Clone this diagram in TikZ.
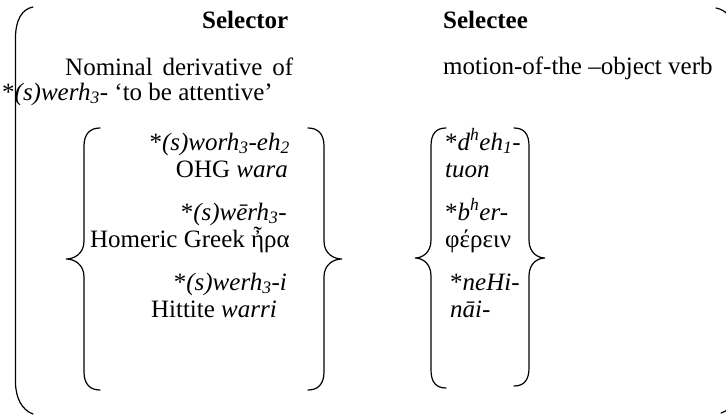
\documentclass[tikz,border=0pt]{standalone}
\usepackage{fontspec}
\setmainfont{Liberation Serif}
\tikzset{
  txt/.style={inner sep=0pt, anchor=base west, font=\fontsize{25}{28}\selectfont},
  txtr/.style={txt, anchor=base east},
  hd/.style={txt, font=\fontsize{25}{28}\selectfont\bfseries},
  brace/.style={line width=1.2pt, line cap=round}
}
\begin{document}
\begin{tikzpicture}[x=1pt,y=-1pt]
\useasboundingbox (0,0) rectangle (726,415);
\clip (0,0) rectangle (726,415);
% headings
\node[hd] (selector) at (202,28) {Selector};
\node[hd] (selectee) at (443,28) {Selectee};
\node[txt] (nom) at (65,75) {\makebox[228pt][s]{Nominal derivative of}};
\node[txt] (root) at (2,100) {*\textit{(s)werh\textsubscript{3}}- ‘to be attentive’};
\node[txt] (motion) at (443,74) {motion-of-the –object verb};
% selector list
\node[txtr] (a1) at (290,150) {*\textit{(s)worh\textsubscript{3}-eh\textsubscript{2}}};
\node[txtr] (a2) at (288,177) {OHG \textit{wara}};
\node[txtr] (b1) at (287,220) {*\textit{(s)wērh\textsubscript{3}-}};
\node[txtr] (b2) at (290,247) {Homeric Greek ἦρα};
\node[txtr] (c1) at (287,290) {*\textit{(s)werh\textsubscript{3}-i}};
\node[txtr] (c2) at (277,317) {Hittite \textit{warri}};
% selectee list
\node[txt] (d1) at (445,150) {*\textit{d\textsuperscript{h}eh\textsubscript{1}-}};
\node[txt] (d2) at (445,177) {\textit{tuon}};
\node[txt] (e1) at (445,220) {*\textit{b\textsuperscript{h}er-}};
\node[txt] (e2) at (445,247) {φέρειν};
\node[txt] (f1) at (450,290) {*\textit{neHi-}};
\node[txt] (f2) at (450,317) {\textit{nāi-}};
% outer bracket
\draw[brace] (33,7) .. controls (22,9) and (15.5,20) .. (15.5,38) -- (15.5,382) .. controls (15.5,398) and (22,410) .. (33,414);
\draw[brace] (716,8) .. controls (728,10) and (736,22) .. (736,40);
\draw[brace] (736,385) .. controls (736,400) and (731,410) .. (721,413);
% selector braces
\draw[brace] (100,128) .. controls (90,128) and (84,134) .. (84,146) -- (84,241) .. controls (84,254) and (74,259) .. (66,259) .. controls (74,259) and (84,264) .. (84,277) -- (84,372) .. controls (84,384) and (90,390) .. (100,390);
\draw[brace] (308,128) .. controls (318,128) and (324,134) .. (324,146) -- (324,241) .. controls (324,254) and (334,259) .. (342,259) .. controls (334,259) and (324,264) .. (324,277) -- (324,372) .. controls (324,384) and (318,390) .. (308,390);
% selectee braces
\draw[brace] (446,128) .. controls (436,128) and (431,134) .. (431,146) -- (431,240) .. controls (431,253) and (422,258) .. (415,258) .. controls (422,258) and (431,263) .. (431,276) -- (431,370) .. controls (431,382) and (436,388) .. (446,388);
\draw[brace] (514,128) .. controls (524,128) and (529,134) .. (529,146) -- (529,240) .. controls (529,253) and (538,258) .. (545,258) .. controls (538,258) and (529,263) .. (529,276) -- (529,368) .. controls (529,380) and (524,386) .. (514,386);
\end{tikzpicture}
\end{document}
